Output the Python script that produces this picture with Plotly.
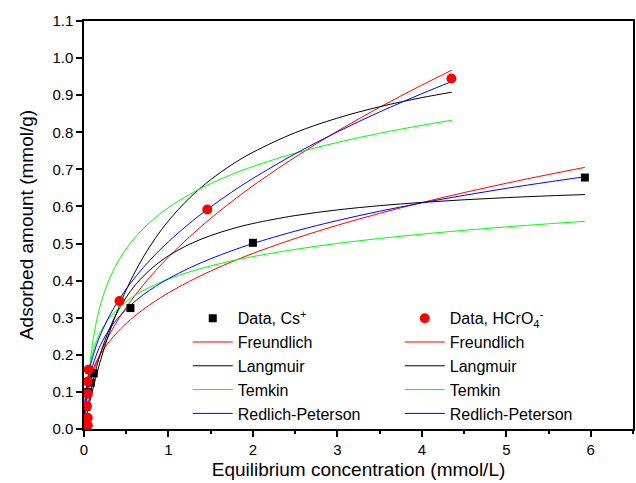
import plotly.graph_objects as go

# ---------------- data ----------------
cs_x = [0.005, 0.01, 0.03, 0.05, 0.08, 0.115, 0.55, 2.0, 5.93]
cs_y = [0.01, 0.03, 0.06, 0.10, 0.125, 0.15, 0.326, 0.502, 0.678]
hc_x = [0.045, 0.045, 0.035, 0.045, 0.045, 0.055, 0.42, 1.46, 4.35]
hc_y = [0.01, 0.03, 0.062, 0.095, 0.128, 0.16, 0.345, 0.592, 0.945]

# fitted curves, Cs+
cs_fx = [0.001, 0.005, 0.01, 0.02, 0.04, 0.07, 0.1, 0.15, 0.2, 0.3, 0.4, 0.55, 0.7, 0.85,
         1.0, 1.25, 1.5, 1.75, 2.0, 2.5, 3.0, 3.5, 4.0, 4.5, 5.0, 5.5, 5.93]
cs_freundlich = [0.0291, 0.0525, 0.0677, 0.0873, 0.1126, 0.1383, 0.1576, 0.1830, 0.2033, 0.2359,
                 0.2622, 0.2947, 0.3220, 0.3458, 0.3670, 0.3983, 0.4259, 0.4507, 0.4733, 0.5137,
                 0.5493, 0.5813, 0.6105, 0.6374, 0.6625, 0.6861, 0.7053]
cs_langmuir = [0.0015, 0.0073, 0.0145, 0.0285, 0.0546, 0.0902, 0.1219, 0.1678, 0.2068, 0.2693,
               0.3172, 0.3713, 0.4114, 0.4423, 0.4669, 0.4982, 0.5215, 0.5396, 0.5540, 0.5754,
               0.5907, 0.6021, 0.6109, 0.6180, 0.6238, 0.6286, 0.6321]
cs_rp = [0.0052, 0.0223, 0.0392, 0.0654, 0.1024, 0.1402, 0.1679, 0.2023, 0.2286, 0.2684,
         0.2984, 0.3335, 0.3615, 0.3850, 0.4053, 0.4343, 0.4590, 0.4806, 0.5000, 0.5334,
         0.5620, 0.5871, 0.6096, 0.6300, 0.6488, 0.6660, 0.6800]
cs_tx = [0.0098, 0.013, 0.02, 0.03, 0.04, 0.07, 0.1, 0.15, 0.2, 0.3, 0.4, 0.55, 0.7, 0.85,
         1.0, 1.25, 1.5, 1.75, 2.0, 2.5, 3.0, 3.5, 4.0, 4.5, 5.0, 5.5, 5.93]
cs_temkin = [0.0, 0.0247, 0.0623, 0.0977, 0.1229, 0.1718, 0.2030, 0.2384, 0.2636, 0.2990,
             0.3242, 0.3520, 0.3730, 0.3900, 0.4042, 0.4237, 0.4397, 0.4532, 0.4648, 0.4843,
             0.5003, 0.5137, 0.5254, 0.5357, 0.5449, 0.5532, 0.5598]

# fitted curves, HCrO4-
hc_fx = [0.001, 0.005, 0.01, 0.02, 0.04, 0.07, 0.1, 0.15, 0.2, 0.3, 0.42, 0.55, 0.7, 0.85,
         1.0, 1.25, 1.5, 1.75, 2.0, 2.5, 3.0, 3.5, 4.0, 4.355]
hc_freundlich = [0.0147, 0.0328, 0.0464, 0.0656, 0.0927, 0.1227, 0.1466, 0.1796, 0.2073, 0.2539,
                 0.3004, 0.3438, 0.3879, 0.4274, 0.4636, 0.5183, 0.5678, 0.6133, 0.6556, 0.7330,
                 0.8030, 0.8673, 0.9272, 0.9675]
hc_langmuir = [0.0011, 0.0056, 0.0112, 0.0222, 0.0435, 0.0740, 0.1027, 0.1473, 0.1881, 0.2602,
               0.3331, 0.3992, 0.4628, 0.5160, 0.5612, 0.6230, 0.6723, 0.7126, 0.7461, 0.7988,
               0.8382, 0.8689, 0.8934, 0.9080]
hc_rp = [0.015, 0.045, 0.070, 0.0977, 0.1306, 0.1653, 0.1920, 0.2277, 0.2569, 0.3046,
         0.3508, 0.3929, 0.4348, 0.4717, 0.5050, 0.5546, 0.5988, 0.6388, 0.6756, 0.7420,
         0.8011, 0.8547, 0.9040, 0.9369]
hc_tx = [0.024, 0.03, 0.04, 0.055, 0.07, 0.1, 0.15, 0.2, 0.3, 0.42, 0.55, 0.7, 0.85,
         1.0, 1.25, 1.5, 1.75, 2.0, 2.5, 3.0, 3.5, 4.0, 4.355]
hc_temkin = [0.0, 0.0358, 0.0819, 0.1328, 0.1714, 0.2285, 0.2933, 0.3394, 0.4042, 0.4581,
             0.5012, 0.5398, 0.5709, 0.5969, 0.6326, 0.6618, 0.6864, 0.7078, 0.7435, 0.7727,
             0.7973, 0.8187, 0.8323]

x_ticks = [0, 1, 2, 3, 4, 5, 6]
y_ticks = [0.0, 0.1, 0.2, 0.3, 0.4, 0.5, 0.6, 0.7, 0.8, 0.9, 1.0, 1.1]

FONT = "Arial, Liberation Sans, sans-serif"
RED, BLACK, GREEN, BLUE = "#FF0000", "#000000", "#00FF00", "#0000FF"

fig = go.Figure()

curves = [
    ("Freundlich", RED, cs_fx, cs_freundlich, hc_fx, hc_freundlich),
    ("Langmuir", BLACK, cs_fx, cs_langmuir, hc_fx, hc_langmuir),
    ("Temkin", GREEN, cs_tx, cs_temkin, hc_tx, hc_temkin),
    ("Redlich-Peterson", BLUE, cs_fx, cs_rp, hc_fx, hc_rp),
]
rank = 3
for name, col, xa, ya, xb, yb in curves:
    fig.add_trace(go.Scatter(x=xa, y=ya, mode="lines", name=name, legendrank=rank,
                             line=dict(color=col, width=1, shape="spline")))
    fig.add_trace(go.Scatter(x=xb, y=yb, mode="lines", name=name, legendrank=rank + 1,
                             line=dict(color=col, width=1, shape="spline")))
    rank += 2

fig.add_trace(go.Scatter(x=cs_x, y=cs_y, mode="markers", name="Data, Cs<sup>+</sup>",
                         legendrank=1,
                         marker=dict(symbol="square", size=8, color=BLACK)))
fig.add_trace(go.Scatter(x=hc_x, y=hc_y, mode="markers",
                         name="Data, HCrO<sub>4</sub><sup>-</sup>", legendrank=2,
                         marker=dict(symbol="circle", size=10, color=RED)))

axis_common = dict(showline=True, linecolor="black", linewidth=1.5, mirror=True,
                   ticks="outside", tickcolor="black", tickwidth=1.5, ticklen=6,
                   showgrid=False, zeroline=False,
                   tickfont=dict(family=FONT, size=15, color="black"))

fig.update_xaxes(range=[0, 6.5], tickvals=x_ticks, ticktext=[str(v) for v in x_ticks],
                 minor=dict(ticks="outside", dtick=0.5, ticklen=3, tickcolor="black", tickwidth=1.5),
                 title=dict(text="Equilibrium concentration (mmol/L)",
                            font=dict(family=FONT, size=19, color="black"), standoff=6),
                 **axis_common)
fig.update_yaxes(range=[0, 1.1], tickvals=y_ticks, ticktext=[f"{v:.1f}" for v in y_ticks],
                 title=dict(text="Adsorbed amount (mmol/g)",
                            font=dict(family=FONT, size=19, color="black"), standoff=14),
                 **axis_common)

fig.update_layout(
    width=636, height=483,
    margin=dict(l=84, r=3, t=21, b=54, autoexpand=False),
    paper_bgcolor="white", plot_bgcolor="white",
    font=dict(family=FONT, color="black"),
    legend=dict(orientation="h", x=0.189, y=0.313, xanchor="left", yanchor="top",
                entrywidth=157, entrywidthmode="pixels", itemwidth=40,
                bgcolor="rgba(0,0,0,0)",
                font=dict(family=FONT, size=16, color="black"),
                tracegroupgap=0),
    showlegend=True,
)

fig.write_html("out.html")
